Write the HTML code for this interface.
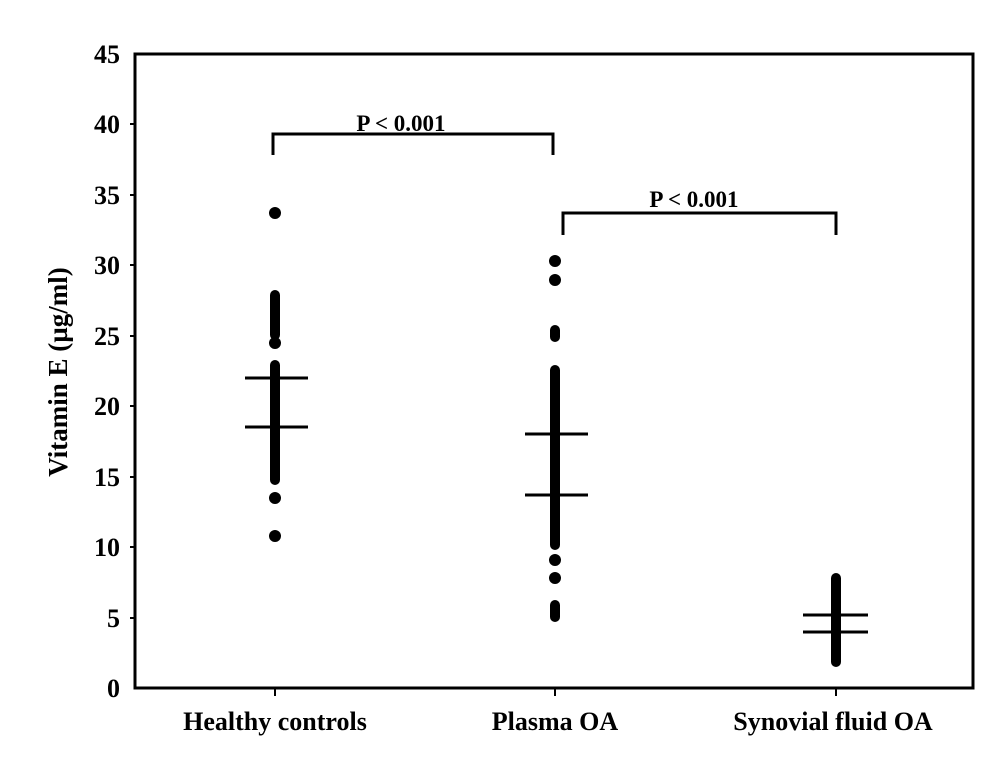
<!DOCTYPE html>
<html><head><meta charset="utf-8"><style>body{margin:0;background:#fff}</style></head>
<body>
<svg width="1005" height="762" viewBox="0 0 1005 762" xmlns="http://www.w3.org/2000/svg" font-family="Liberation Serif, serif" font-weight="bold">
<rect x="135" y="54" width="838" height="634" fill="none" stroke="#000" stroke-width="3"/>
<g font-size="26" text-anchor="end" fill="#000">
<text x="120" y="63">45</text><text x="120" y="133">40</text><text x="120" y="204">35</text>
<text x="120" y="274">30</text><text x="120" y="345">25</text><text x="120" y="415">20</text>
<text x="120" y="486">15</text><text x="120" y="556">10</text><text x="120" y="627">5</text>
<text x="120" y="697">0</text>
</g>
<g stroke="#000" stroke-width="2">
<line x1="130" y1="124" x2="135" y2="124"/><line x1="130" y1="195" x2="135" y2="195"/>
<line x1="130" y1="265" x2="135" y2="265"/><line x1="130" y1="336" x2="135" y2="336"/>
<line x1="130" y1="406" x2="135" y2="406"/><line x1="130" y1="477" x2="135" y2="477"/>
<line x1="130" y1="547" x2="135" y2="547"/><line x1="130" y1="618" x2="135" y2="618"/>
<line x1="275" y1="688" x2="275" y2="696"/><line x1="555" y1="688" x2="555" y2="696"/><line x1="836" y1="688" x2="836" y2="696"/>
</g>
<text transform="translate(67,372) rotate(-90)" font-size="27" text-anchor="middle">Vitamin E (µg/ml)</text>
<g font-size="26" text-anchor="middle">
<text x="275" y="730">Healthy controls</text><text x="555" y="730">Plasma OA</text><text x="833" y="730">Synovial fluid OA</text>
</g>
<g fill="none" stroke="#000" stroke-width="3">
<polyline points="273,155 273,134 553,134 553,155"/>
<polyline points="563,235 563,213 836,213 836,235"/>
</g>
<g font-size="23" text-anchor="middle"><text x="401" y="131">P &lt; 0.001</text><text x="694" y="207">P &lt; 0.001</text></g>
<g fill="#000">
<circle cx="275" cy="213" r="6"/><circle cx="275" cy="536" r="6"/><circle cx="275" cy="498" r="6"/>
<rect x="270" y="290" width="10" height="50" rx="5"/>
<circle cx="275" cy="343" r="6"/>
<rect x="270" y="360" width="10" height="125" rx="5"/>
<circle cx="555" cy="261" r="6"/><circle cx="555" cy="280" r="6"/>
<rect x="550" y="325" width="10" height="17" rx="5"/>
<rect x="550" y="365" width="10" height="185" rx="5"/>
<circle cx="555" cy="560" r="6"/><circle cx="555" cy="578" r="6"/>
<rect x="550" y="600" width="10" height="22" rx="5"/>
<rect x="831" y="573" width="10" height="94" rx="5"/>
</g>
<g stroke="#000" stroke-width="3">
<line x1="245" y1="378" x2="308" y2="378"/><line x1="245" y1="427" x2="308" y2="427"/>
<line x1="525" y1="434" x2="588" y2="434"/><line x1="525" y1="495" x2="588" y2="495"/>
<line x1="803" y1="615" x2="868" y2="615"/><line x1="803" y1="632" x2="868" y2="632"/>
</g>
</svg>
</body></html>
